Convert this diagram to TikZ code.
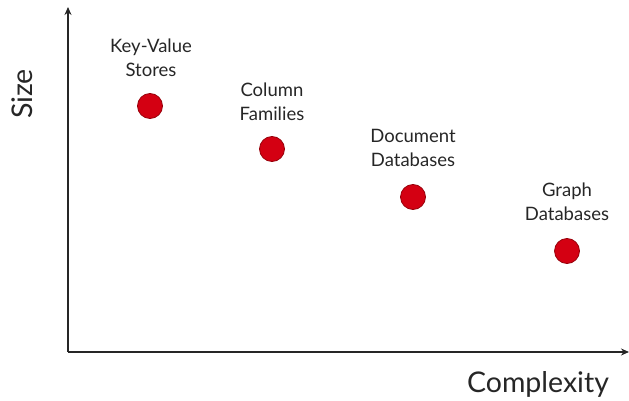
\documentclass[tikz,border=0pt]{standalone}
\usepackage{fontspec}
\setmainfont{Lato}
\usetikzlibrary{arrows.meta}
\definecolor{dotred}{RGB}{212,0,18}
\definecolor{dotedge}{RGB}{150,0,10}
\begin{document}
\begin{tikzpicture}[x=1pt,y=-1pt,
  axis/.style={line width=1.8pt,draw=black!85,-{Stealth[length=8pt,width=7pt]}},
  dot/.style={circle,fill=dotred,draw=dotedge,line width=0.8pt,minimum size=25pt,inner sep=0pt},
  lbl/.style={align=center,font=\fontsize{18.5}{24}\selectfont,text=black!85},
  axlbl/.style={font=\fontsize{28.5}{30}\selectfont,text=black!85}]
\useasboundingbox (0,0) rectangle (629,401);
\coordinate (o) at (68,352);
\coordinate (ytop) at (68,7);
\coordinate (xend) at (629,352);
\draw[axis] (o) -- (ytop);
\draw[axis] (o) -- (xend);
\node[axlbl,rotate=90] (size) at (22,94) {Size};
\node[axlbl] (cx) at (538,384) {Complexity};
\node[dot] (kv) at (150,106) {};
\node[dot] (cf) at (272,149) {};
\node[dot] (dd) at (413,197) {};
\node[dot] (gd) at (567,251) {};
\node[lbl] (kvl) at (151,58) {Key-Value\\Stores};
\node[lbl] (cfl) at (272,102) {Column\\Families};
\node[lbl] (ddl) at (413,148) {Document\\Databases};
\node[lbl] (gdl) at (567,202) {Graph\\Databases};
\end{tikzpicture}
\end{document}
